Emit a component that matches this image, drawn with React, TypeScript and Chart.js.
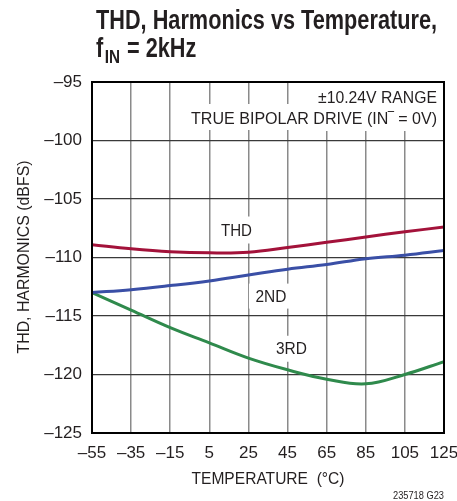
import React, { useEffect, useRef } from "react";
import { Chart, registerables } from "chart.js";

Chart.register(...registerables);

const temperatures = [-55, -35, -15, 5, 25, 45, 65, 85, 105, 125];
const thd = [-108.9, -109.25, -109.5, -109.6, -109.55, -109.15, -108.7, -108.25, -107.8, -107.4];
const second = [-113.0, -112.75, -112.4, -112.0, -111.5, -111.0, -110.6, -110.1, -109.8, -109.4];
const third = [-113.0, -114.5, -116.0, -117.3, -118.6, -119.6, -120.4, -120.8, -120.0, -118.9];
const xTicks = [-55, -35, -15, 5, 25, 45, 65, 85, 105, 125];
const yTicks = [-125, -120, -115, -110, -105, -100, -95];

const FONT = '"Liberation Sans Narrow", "Arial Narrow", "Liberation Sans", sans-serif';
const TEXT = "#231f20";

const fmt = (v: number) => (v < 0 ? "\u2013" + Math.abs(v) : String(v));

const textPlugin = {
  id: "texts",
  beforeDatasetsDraw(chart: any) {
    const ctx = chart.ctx;
    const xs = chart.scales.x;
    const ys = chart.scales.y;
    const ca = chart.chartArea;
    ctx.save();
    ctx.fillStyle = "#fff";
    // white boxes behind annotation
    ctx.fillRect(300, ca.top + 1, ca.right - 301, 48);
    ctx.fillRect(188, 104, ca.right - 189, 26);
    const boxes = [
      { t: "THD", x: 18.9, y: -107.65, w: 46, h: 27 },
      { t: "2ND", x: 36.5, y: -113.3, w: 44, h: 25 },
      { t: "3RD", x: 47, y: -117.8, w: 44, h: 26 },
    ];
    for (const b of boxes) {
      const px = xs.getPixelForValue(b.x);
      const py = ys.getPixelForValue(b.y);
      ctx.fillStyle = "#fff";
      ctx.fillRect(px - b.w / 2, py - b.h / 2, b.w, b.h);
      ctx.fillStyle = TEXT;
      ctx.font = "17px " + FONT;
      ctx.textAlign = "center";
      ctx.textBaseline = "middle";
      ctx.fillText(b.t, px, py + 1, 31);
    }
    ctx.fillStyle = TEXT;
    ctx.font = "17px " + FONT;
    ctx.textAlign = "right";
    ctx.textBaseline = "alphabetic";
    ctx.fillText("\u00b110.24V RANGE", 437, 103, 119);
    ctx.fillText("TRUE BIPOLAR DRIVE (IN\u203e = 0V)", 437, 124, 246);
    ctx.restore();
  },
  afterDraw(chart: any) {
    const ctx = chart.ctx;
    const ca = chart.chartArea;
    ctx.save();
    ctx.strokeStyle = "#000";
    ctx.lineWidth = 2;
    ctx.strokeRect(ca.left, ca.top, ca.right - ca.left, ca.bottom - ca.top);
    ctx.fillStyle = TEXT;
    // title
    ctx.textAlign = "left";
    ctx.textBaseline = "alphabetic";
    ctx.font = "bold 27px " + FONT;
    const line1 = "THD, Harmonics vs Temperature,";
    const natural = ctx.measureText(line1).width;
    const k = Math.min(1, 341 / natural);
    ctx.save();
    ctx.translate(96, 0);
    ctx.scale(k, 1);
    ctx.fillText(line1, 0, 29);
    ctx.fillText("f", 0, 57);
    const fw = ctx.measureText("f").width;
    ctx.font = "bold 19px " + FONT;
    ctx.fillText("IN", fw + 2, 63);
    const inw = ctx.measureText("IN").width;
    ctx.font = "bold 27px " + FONT;
    ctx.fillText(" = 2kHz", fw + 2 + inw + 1, 57);
    ctx.restore();
    // x title
    ctx.font = "17px " + FONT;
    ctx.textAlign = "center";
    ctx.fillText("TEMPERATURE  (\u00b0C)", 268, 484, 153);
    // y title
    ctx.save();
    ctx.translate(29, 257);
    ctx.rotate(-Math.PI / 2);
    ctx.fillText("THD, HARMONICS (dBFS)", 0, 0, 193);
    ctx.restore();
    // footnote
    ctx.font = "10px " + FONT;
    ctx.textAlign = "right";
    ctx.fillText("235718 G23", 444, 499, 51);
    ctx.restore();
  },
};

export default function App() {
  const ref = useRef<HTMLCanvasElement | null>(null);
  useEffect(() => {
    if (!ref.current) return;
    const mk = (label: string, data: number[], color: string) => ({
      label,
      data: data.map((v, i) => ({ x: temperatures[i], y: v })),
      borderColor: color,
      backgroundColor: color,
      borderWidth: 3,
      pointRadius: 0,
      tension: 0.4,
      fill: false,
    });
    const chart = new Chart(ref.current, {
      type: "line",
      data: {
        datasets: [
          mk("THD", thd, "#a3123a"),
          mk("2ND", second, "#3a4fa6"),
          mk("3RD", third, "#2f8a4c"),
        ],
      },
      options: {
        animation: false,
        responsive: false,
        layout: { padding: { top: 82, right: 13, bottom: 0, left: 0 } },
        plugins: { legend: { display: false }, tooltip: { enabled: false } },
        scales: {
          x: {
            type: "linear",
            min: -55,
            max: 125,
            afterBuildTicks: (s: any) => {
              s.ticks = xTicks.map((v) => ({ value: v }));
            },
            afterFit: (s: any) => {
              s.height = 68;
              s.paddingLeft = 0;
              s.paddingRight = 0;
            },
            grid: { color: "#8a8a8a", lineWidth: 1.5, drawTicks: false },
            border: { display: false },
            ticks: {
              padding: 10,
              color: TEXT,
              font: { family: FONT, size: 17 },
              maxRotation: 0,
              autoSkip: false,
              callback: (v: any) => fmt(Number(v)),
            },
          },
          y: {
            type: "linear",
            min: -125,
            max: -95,
            afterBuildTicks: (s: any) => {
              s.ticks = yTicks.map((v) => ({ value: v }));
            },
            afterFit: (s: any) => {
              s.width = 92;
              s.paddingTop = 0;
              s.paddingBottom = 0;
            },
            grid: { color: "#3a3a3a", lineWidth: 1.2, drawTicks: false },
            border: { display: false },
            ticks: {
              padding: 10,
              color: TEXT,
              font: { family: FONT, size: 17 },
              autoSkip: false,
              callback: (v: any) => fmt(Number(v)),
            },
          },
        },
      },
      plugins: [textPlugin],
    });
    return () => chart.destroy();
  }, []);
  return (
    <div style={{ position: "absolute", left: 0, top: 0, width: 457, height: 501, background: "#fff" }}>
      <canvas ref={ref} width={457} height={501} style={{ display: "block" }} />
    </div>
  );
}
